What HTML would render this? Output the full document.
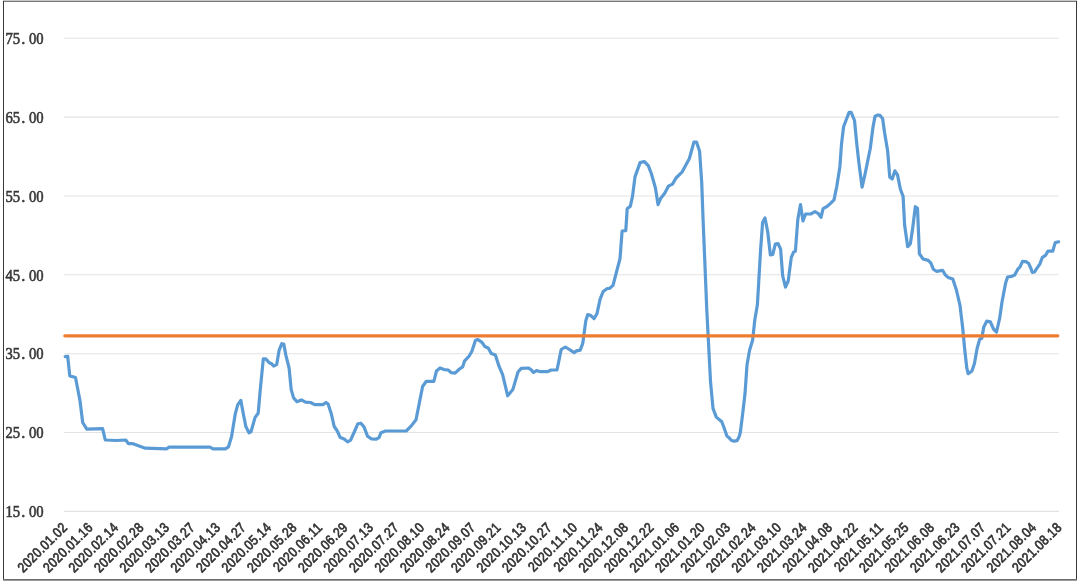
<!DOCTYPE html><html><head><meta charset="utf-8"><style>html,body{margin:0;padding:0;background:#fff;}svg{display:block;will-change:transform}.ys{font-family:"Liberation Serif",serif}.xs{font-family:"Liberation Sans",sans-serif}</style></head><body>
<svg width="1080" height="585" viewBox="0 0 1080 585">
<rect x="3" y="0" width="1074" height="1" fill="#c8c8c8"/>
<rect x="3" y="1" width="1074" height="1" fill="#7a7a7a"/>
<rect x="3" y="1" width="1" height="579" fill="#383838"/>
<rect x="1076" y="1" width="1" height="579" fill="#383838"/>
<rect x="3" y="579" width="1074" height="1" fill="#6e6e6e"/>
<rect x="3" y="580" width="1074" height="1" fill="#9a9a9a"/>
<line x1="64" y1="38.2" x2="1059" y2="38.2" stroke="#e3e3e3" stroke-width="1.1"/>
<line x1="64" y1="117.1" x2="1059" y2="117.1" stroke="#e3e3e3" stroke-width="1.1"/>
<line x1="64" y1="196.0" x2="1059" y2="196.0" stroke="#e3e3e3" stroke-width="1.1"/>
<line x1="64" y1="274.8" x2="1059" y2="274.8" stroke="#e3e3e3" stroke-width="1.1"/>
<line x1="64" y1="353.7" x2="1059" y2="353.7" stroke="#e3e3e3" stroke-width="1.1"/>
<line x1="64" y1="432.5" x2="1059" y2="432.5" stroke="#e3e3e3" stroke-width="1.1"/>
<line x1="64" y1="511.4" x2="1059" y2="511.4" stroke="#e3e3e3" stroke-width="1.1"/>
<g class="ys" font-size="16.3" fill="#383838" stroke="#383838" stroke-width="0.6"><text transform="translate(5.4 43.9) scale(0.9 1)">75</text><text x="21.3" y="43.9">.</text><text transform="translate(28.9 43.9) scale(0.9 1)">00</text></g>
<g class="ys" font-size="16.3" fill="#383838" stroke="#383838" stroke-width="0.6"><text transform="translate(5.4 122.8) scale(0.9 1)">65</text><text x="21.3" y="122.8">.</text><text transform="translate(28.9 122.8) scale(0.9 1)">00</text></g>
<g class="ys" font-size="16.3" fill="#383838" stroke="#383838" stroke-width="0.6"><text transform="translate(5.4 201.7) scale(0.9 1)">55</text><text x="21.3" y="201.7">.</text><text transform="translate(28.9 201.7) scale(0.9 1)">00</text></g>
<g class="ys" font-size="16.3" fill="#383838" stroke="#383838" stroke-width="0.6"><text transform="translate(5.4 280.5) scale(0.9 1)">45</text><text x="21.3" y="280.5">.</text><text transform="translate(28.9 280.5) scale(0.9 1)">00</text></g>
<g class="ys" font-size="16.3" fill="#383838" stroke="#383838" stroke-width="0.6"><text transform="translate(5.4 359.4) scale(0.9 1)">35</text><text x="21.3" y="359.4">.</text><text transform="translate(28.9 359.4) scale(0.9 1)">00</text></g>
<g class="ys" font-size="16.3" fill="#383838" stroke="#383838" stroke-width="0.6"><text transform="translate(5.4 438.2) scale(0.9 1)">25</text><text x="21.3" y="438.2">.</text><text transform="translate(28.9 438.2) scale(0.9 1)">00</text></g>
<g class="ys" font-size="16.3" fill="#383838" stroke="#383838" stroke-width="0.6"><text transform="translate(5.4 517.1) scale(0.9 1)">15</text><text x="21.3" y="517.1">.</text><text transform="translate(28.9 517.1) scale(0.9 1)">00</text></g>
<path d="M65.2,356.6 L67.7,356.4 L69.8,375.9 L75.5,377.5 L80.0,400.8 L82.7,422.5 L86.8,429.1 L102.6,428.7 L105.3,440.0 L116.5,440.5 L125.8,440.0 L128.4,443.7 L133.0,443.7 L145.3,448.2 L166.8,448.8 L168.8,447.2 L210.0,447.2 L213.0,448.8 L225.4,448.8 L228.5,446.8 L231.5,436.9 L235.2,414.2 L237.7,404.9 L240.8,400.4 L243.4,414.2 L245.9,426.7 L249.0,432.8 L251.0,431.8 L255.1,417.4 L258.2,413.2 L260.3,389.3 L263.3,358.9 L265.8,358.9 L269.5,363.0 L271.5,363.6 L273.6,366.0 L276.7,364.6 L279.1,350.3 L281.8,343.7 L283.8,344.1 L285.9,355.4 L289.1,368.0 L291.2,389.6 L293.6,397.9 L296.9,401.7 L301.4,399.9 L305.5,402.1 L310.6,402.5 L314.7,404.6 L323.0,404.6 L326.0,402.5 L328.1,404.1 L331.2,413.4 L334.2,426.5 L337.3,431.0 L340.0,437.2 L344.5,439.2 L347.6,441.9 L350.6,440.2 L354.7,431.0 L357.8,423.8 L360.9,423.2 L364.0,426.9 L367.5,436.1 L371.2,438.8 L376.3,439.2 L379.0,437.6 L381.0,432.7 L385.5,431.0 L406.2,431.0 L411.3,425.9 L416.0,419.7 L419.5,402.1 L422.6,386.5 L426.3,381.3 L433.8,381.3 L436.5,371.0 L440.0,368.0 L444.1,369.6 L448.2,370.0 L451.3,372.7 L455.0,373.1 L459.5,369.0 L462.6,366.9 L464.6,360.8 L468.7,356.7 L471.8,351.5 L475.5,340.3 L477.9,339.6 L482.0,342.3 L485.1,346.8 L488.2,348.0 L491.3,353.6 L495.4,355.0 L498.9,365.9 L502.6,374.7 L507.7,395.8 L512.8,389.6 L518.0,372.0 L521.2,368.4 L528.3,368.0 L531.0,369.6 L533.5,372.5 L536.5,370.6 L539.6,371.6 L547.8,371.6 L550.9,370.0 L557.0,370.0 L561.2,349.5 L565.3,347.0 L569.4,349.5 L574.1,352.6 L576.5,350.9 L580.2,350.1 L582.7,343.7 L585.8,320.8 L587.8,314.6 L590.9,315.6 L594.0,318.7 L597.0,313.6 L600.1,299.2 L603.2,291.5 L607.3,288.5 L609.4,288.5 L613.0,285.4 L616.5,272.0 L620.0,258.7 L622.1,231.0 L625.8,230.6 L627.2,208.7 L630.3,206.3 L632.5,196.4 L635.0,176.9 L640.1,162.6 L644.2,161.5 L648.3,165.6 L651.4,173.8 L655.5,188.2 L658.0,204.6 L660.6,198.5 L664.7,193.3 L668.4,186.2 L672.5,184.1 L676.0,178.0 L682.2,171.8 L689.4,158.5 L693.9,142.1 L696.5,142.1 L699.6,151.3 L701.7,182.0 L703.1,220.0 L706.8,310.0 L708.9,350.5 L710.5,381.3 L713.0,408.4 L716.3,417.1 L721.8,421.8 L724.5,429.0 L726.9,436.1 L729.4,438.1 L731.5,440.5 L734.0,441.1 L737.0,440.7 L739.0,437.0 L740.3,432.5 L742.3,416.7 L745.0,393.8 L747.0,364.9 L749.5,350.5 L752.6,340.3 L754.8,320.0 L757.4,304.6 L760.5,251.3 L762.6,222.6 L765.0,218.0 L767.7,231.8 L770.4,255.0 L772.8,254.4 L775.3,244.1 L778.0,243.5 L780.6,249.2 L782.7,275.9 L785.5,287.2 L788.2,281.0 L791.3,257.4 L793.7,251.9 L795.4,251.3 L797.8,219.5 L800.5,204.5 L803.0,220.9 L805.6,214.0 L810.8,214.0 L814.9,211.7 L818.0,213.3 L821.0,217.4 L823.1,208.6 L827.2,206.3 L830.3,203.6 L834.0,199.9 L836.8,186.2 L839.9,166.7 L841.5,144.1 L843.6,126.7 L846.7,118.5 L849.1,112.3 L851.2,112.3 L854.5,120.5 L856.9,145.1 L859.0,163.6 L862.1,187.2 L865.1,173.8 L868.2,158.5 L870.3,148.2 L872.9,127.7 L875.0,116.4 L877.8,115.0 L879.9,115.4 L882.6,118.5 L884.6,132.8 L887.7,151.3 L889.7,176.9 L892.2,179.0 L894.9,170.8 L897.5,174.9 L900.4,189.2 L903.1,196.4 L904.6,225.1 L907.7,246.7 L910.4,243.6 L912.8,227.2 L915.3,206.7 L917.5,208.3 L919.4,253.8 L923.1,259.0 L928.2,260.4 L930.9,263.1 L933.3,269.2 L936.4,271.3 L942.6,270.3 L945.2,274.8 L948.1,277.4 L952.8,279.1 L956.3,289.7 L960.0,305.4 L962.7,328.0 L964.7,349.5 L966.8,368.0 L968.2,373.7 L971.9,371.0 L974.4,363.8 L977.1,348.5 L979.7,339.2 L981.8,338.2 L983.8,326.9 L986.7,321.2 L990.4,321.8 L993.5,329.0 L996.5,332.0 L999.6,318.7 L1002.0,302.0 L1005.5,283.6 L1007.6,277.0 L1011.7,276.4 L1014.7,275.0 L1017.8,269.2 L1019.9,267.2 L1022.5,261.4 L1026.0,261.6 L1028.7,263.5 L1031.2,269.2 L1032.2,272.3 L1034.6,272.0 L1036.3,269.2 L1039.8,264.1 L1042.4,257.3 L1045.5,255.3 L1048.0,251.2 L1052.7,251.2 L1055.2,242.6 L1058.6,241.8" fill="none" stroke="#5b9bd5" stroke-width="3.2" stroke-linejoin="round" stroke-linecap="round"/>
<line x1="64.8" y1="335.8" x2="1057.8" y2="335.8" stroke="#ed7d31" stroke-width="3.2" stroke-linecap="round"/>
<text x="0" y="0" transform="translate(68.10 528.30) rotate(-45) scale(1 1.16)" text-anchor="end" class="xs" font-size="12.0" fill="#333" stroke="#333" stroke-width="0.6" letter-spacing="0.35">2020.01.02</text>
<text x="0" y="0" transform="translate(93.60 528.30) rotate(-45) scale(1 1.16)" text-anchor="end" class="xs" font-size="12.0" fill="#333" stroke="#333" stroke-width="0.6" letter-spacing="0.35">2020.01.16</text>
<text x="0" y="0" transform="translate(119.10 528.30) rotate(-45) scale(1 1.16)" text-anchor="end" class="xs" font-size="12.0" fill="#333" stroke="#333" stroke-width="0.6" letter-spacing="0.35">2020.02.14</text>
<text x="0" y="0" transform="translate(144.60 528.30) rotate(-45) scale(1 1.16)" text-anchor="end" class="xs" font-size="12.0" fill="#333" stroke="#333" stroke-width="0.6" letter-spacing="0.35">2020.02.28</text>
<text x="0" y="0" transform="translate(170.10 528.30) rotate(-45) scale(1 1.16)" text-anchor="end" class="xs" font-size="12.0" fill="#333" stroke="#333" stroke-width="0.6" letter-spacing="0.35">2020.03.13</text>
<text x="0" y="0" transform="translate(195.60 528.30) rotate(-45) scale(1 1.16)" text-anchor="end" class="xs" font-size="12.0" fill="#333" stroke="#333" stroke-width="0.6" letter-spacing="0.35">2020.03.27</text>
<text x="0" y="0" transform="translate(221.10 528.30) rotate(-45) scale(1 1.16)" text-anchor="end" class="xs" font-size="12.0" fill="#333" stroke="#333" stroke-width="0.6" letter-spacing="0.35">2020.04.13</text>
<text x="0" y="0" transform="translate(246.60 528.30) rotate(-45) scale(1 1.16)" text-anchor="end" class="xs" font-size="12.0" fill="#333" stroke="#333" stroke-width="0.6" letter-spacing="0.35">2020.04.27</text>
<text x="0" y="0" transform="translate(272.10 528.30) rotate(-45) scale(1 1.16)" text-anchor="end" class="xs" font-size="12.0" fill="#333" stroke="#333" stroke-width="0.6" letter-spacing="0.35">2020.05.14</text>
<text x="0" y="0" transform="translate(297.60 528.30) rotate(-45) scale(1 1.16)" text-anchor="end" class="xs" font-size="12.0" fill="#333" stroke="#333" stroke-width="0.6" letter-spacing="0.35">2020.05.28</text>
<text x="0" y="0" transform="translate(323.10 528.30) rotate(-45) scale(1 1.16)" text-anchor="end" class="xs" font-size="12.0" fill="#333" stroke="#333" stroke-width="0.6" letter-spacing="0.35">2020.06.11</text>
<text x="0" y="0" transform="translate(348.60 528.30) rotate(-45) scale(1 1.16)" text-anchor="end" class="xs" font-size="12.0" fill="#333" stroke="#333" stroke-width="0.6" letter-spacing="0.35">2020.06.29</text>
<text x="0" y="0" transform="translate(374.10 528.30) rotate(-45) scale(1 1.16)" text-anchor="end" class="xs" font-size="12.0" fill="#333" stroke="#333" stroke-width="0.6" letter-spacing="0.35">2020.07.13</text>
<text x="0" y="0" transform="translate(399.60 528.30) rotate(-45) scale(1 1.16)" text-anchor="end" class="xs" font-size="12.0" fill="#333" stroke="#333" stroke-width="0.6" letter-spacing="0.35">2020.07.27</text>
<text x="0" y="0" transform="translate(425.10 528.30) rotate(-45) scale(1 1.16)" text-anchor="end" class="xs" font-size="12.0" fill="#333" stroke="#333" stroke-width="0.6" letter-spacing="0.35">2020.08.10</text>
<text x="0" y="0" transform="translate(450.60 528.30) rotate(-45) scale(1 1.16)" text-anchor="end" class="xs" font-size="12.0" fill="#333" stroke="#333" stroke-width="0.6" letter-spacing="0.35">2020.08.24</text>
<text x="0" y="0" transform="translate(476.10 528.30) rotate(-45) scale(1 1.16)" text-anchor="end" class="xs" font-size="12.0" fill="#333" stroke="#333" stroke-width="0.6" letter-spacing="0.35">2020.09.07</text>
<text x="0" y="0" transform="translate(501.60 528.30) rotate(-45) scale(1 1.16)" text-anchor="end" class="xs" font-size="12.0" fill="#333" stroke="#333" stroke-width="0.6" letter-spacing="0.35">2020.09.21</text>
<text x="0" y="0" transform="translate(527.10 528.30) rotate(-45) scale(1 1.16)" text-anchor="end" class="xs" font-size="12.0" fill="#333" stroke="#333" stroke-width="0.6" letter-spacing="0.35">2020.10.13</text>
<text x="0" y="0" transform="translate(552.60 528.30) rotate(-45) scale(1 1.16)" text-anchor="end" class="xs" font-size="12.0" fill="#333" stroke="#333" stroke-width="0.6" letter-spacing="0.35">2020.10.27</text>
<text x="0" y="0" transform="translate(578.10 528.30) rotate(-45) scale(1 1.16)" text-anchor="end" class="xs" font-size="12.0" fill="#333" stroke="#333" stroke-width="0.6" letter-spacing="0.35">2020.11.10</text>
<text x="0" y="0" transform="translate(603.60 528.30) rotate(-45) scale(1 1.16)" text-anchor="end" class="xs" font-size="12.0" fill="#333" stroke="#333" stroke-width="0.6" letter-spacing="0.35">2020.11.24</text>
<text x="0" y="0" transform="translate(629.10 528.30) rotate(-45) scale(1 1.16)" text-anchor="end" class="xs" font-size="12.0" fill="#333" stroke="#333" stroke-width="0.6" letter-spacing="0.35">2020.12.08</text>
<text x="0" y="0" transform="translate(654.60 528.30) rotate(-45) scale(1 1.16)" text-anchor="end" class="xs" font-size="12.0" fill="#333" stroke="#333" stroke-width="0.6" letter-spacing="0.35">2020.12.22</text>
<text x="0" y="0" transform="translate(680.10 528.30) rotate(-45) scale(1 1.16)" text-anchor="end" class="xs" font-size="12.0" fill="#333" stroke="#333" stroke-width="0.6" letter-spacing="0.35">2021.01.06</text>
<text x="0" y="0" transform="translate(705.60 528.30) rotate(-45) scale(1 1.16)" text-anchor="end" class="xs" font-size="12.0" fill="#333" stroke="#333" stroke-width="0.6" letter-spacing="0.35">2021.01.20</text>
<text x="0" y="0" transform="translate(731.10 528.30) rotate(-45) scale(1 1.16)" text-anchor="end" class="xs" font-size="12.0" fill="#333" stroke="#333" stroke-width="0.6" letter-spacing="0.35">2021.02.03</text>
<text x="0" y="0" transform="translate(756.60 528.30) rotate(-45) scale(1 1.16)" text-anchor="end" class="xs" font-size="12.0" fill="#333" stroke="#333" stroke-width="0.6" letter-spacing="0.35">2021.02.24</text>
<text x="0" y="0" transform="translate(782.10 528.30) rotate(-45) scale(1 1.16)" text-anchor="end" class="xs" font-size="12.0" fill="#333" stroke="#333" stroke-width="0.6" letter-spacing="0.35">2021.03.10</text>
<text x="0" y="0" transform="translate(807.60 528.30) rotate(-45) scale(1 1.16)" text-anchor="end" class="xs" font-size="12.0" fill="#333" stroke="#333" stroke-width="0.6" letter-spacing="0.35">2021.03.24</text>
<text x="0" y="0" transform="translate(833.10 528.30) rotate(-45) scale(1 1.16)" text-anchor="end" class="xs" font-size="12.0" fill="#333" stroke="#333" stroke-width="0.6" letter-spacing="0.35">2021.04.08</text>
<text x="0" y="0" transform="translate(858.60 528.30) rotate(-45) scale(1 1.16)" text-anchor="end" class="xs" font-size="12.0" fill="#333" stroke="#333" stroke-width="0.6" letter-spacing="0.35">2021.04.22</text>
<text x="0" y="0" transform="translate(884.10 528.30) rotate(-45) scale(1 1.16)" text-anchor="end" class="xs" font-size="12.0" fill="#333" stroke="#333" stroke-width="0.6" letter-spacing="0.35">2021.05.11</text>
<text x="0" y="0" transform="translate(909.60 528.30) rotate(-45) scale(1 1.16)" text-anchor="end" class="xs" font-size="12.0" fill="#333" stroke="#333" stroke-width="0.6" letter-spacing="0.35">2021.05.25</text>
<text x="0" y="0" transform="translate(935.10 528.30) rotate(-45) scale(1 1.16)" text-anchor="end" class="xs" font-size="12.0" fill="#333" stroke="#333" stroke-width="0.6" letter-spacing="0.35">2021.06.08</text>
<text x="0" y="0" transform="translate(960.60 528.30) rotate(-45) scale(1 1.16)" text-anchor="end" class="xs" font-size="12.0" fill="#333" stroke="#333" stroke-width="0.6" letter-spacing="0.35">2021.06.23</text>
<text x="0" y="0" transform="translate(986.10 528.30) rotate(-45) scale(1 1.16)" text-anchor="end" class="xs" font-size="12.0" fill="#333" stroke="#333" stroke-width="0.6" letter-spacing="0.35">2021.07.07</text>
<text x="0" y="0" transform="translate(1011.60 528.30) rotate(-45) scale(1 1.16)" text-anchor="end" class="xs" font-size="12.0" fill="#333" stroke="#333" stroke-width="0.6" letter-spacing="0.35">2021.07.21</text>
<text x="0" y="0" transform="translate(1037.10 528.30) rotate(-45) scale(1 1.16)" text-anchor="end" class="xs" font-size="12.0" fill="#333" stroke="#333" stroke-width="0.6" letter-spacing="0.35">2021.08.04</text>
<text x="0" y="0" transform="translate(1062.60 528.30) rotate(-45) scale(1 1.16)" text-anchor="end" class="xs" font-size="12.0" fill="#333" stroke="#333" stroke-width="0.6" letter-spacing="0.35">2021.08.18</text>
</svg></body></html>
